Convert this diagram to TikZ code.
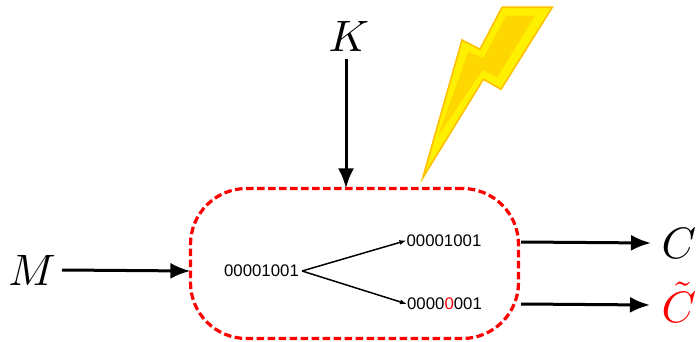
\documentclass[tikz,border=0pt]{standalone}
\usepackage{fontspec}
\setsansfont{Liberation Sans}
\usepackage{tikz}
\usetikzlibrary{arrows.meta,positioning}

\definecolor{boltedge}{HTML}{FFC000}
\definecolor{boltfill}{HTML}{FFF000}
\definecolor{boltcore}{HTML}{FFD700}

\begin{document}
\begin{tikzpicture}[
            x=1pt,y=-1pt,
            sym/.style={inner sep=0pt,scale=4.4},
            bits/.style={inner sep=0pt,font=\sffamily\fontsize{16.8}{17}\selectfont},
            block/.style={draw=red,dash pattern=on 7.5pt off 3.5pt,line width=3.2pt,rounded corners=56pt,
                          minimum width=328pt,minimum height=150pt,inner sep=0pt},
            wire/.style={draw,-{Latex[length=20pt,width=16pt]},line width=3pt},
            split/.style={draw,-{Latex[length=7pt,width=5pt]},line width=1.5pt}
          ]
          \useasboundingbox (0,0) rectangle (696,342);

          %block
          \node[block] (block) at (354.5,263.5) {};

          %labels
          \node[sym] (M) at (32,270) {$M$};
          \node[sym] (K) at (349,36) {$K$};
          \node[sym] (C) at (679,243) {$C$};
          \node[sym,text=red] (Ct) at (679,302) {$\tilde{C}$};

          %bits
          \node[bits] (in) at (261.5,271) {00001001};
          \node[bits] (good) at (444,240.5) {00001001};
          \node[bits] (bad) at (444.5,304) {0000\textcolor{red}{0}001};

          %arrows
          \coordinate (Mout) at (62,270);
          \coordinate (Kout) at (346,59);
          \coordinate (Cin) at (651,243);
          \coordinate (Ctin) at (650,305);
          \coordinate (Cout) at (521,242);
          \coordinate (Ctout) at (521,304);
          \draw[wire] (Mout) -- ([xshift=1.5pt]block.west |- 0,271);
          \draw[wire] (Kout) -- ([yshift=-1.5pt]block.north -| Kout);
          \draw[wire] (Cout) -- (Cin);
          \draw[wire] (Ctout) -- (Ctin);
          \draw[split] (in.east) ++(3,0) -- (good.west);
          \draw[split] (in.east) ++(3,0) -- (bad.west);

          %bolt
          \draw[boltedge,fill=boltfill,line width=1.6pt,line join=miter]
            (422.7,178) -- (462,40) -- (480,49.3) -- (502,7.3) -- (552.3,7.3)
            -- (501,89.3) -- (483.3,79.3) -- cycle;
          \fill[boltcore] (506,15.7) -- (535,15.7) -- (497.3,77.3) -- (482.7,70)
            -- (438,136) -- (468.3,51.7) -- (483.3,58.3) -- cycle;
      \end{tikzpicture}
\end{document}
